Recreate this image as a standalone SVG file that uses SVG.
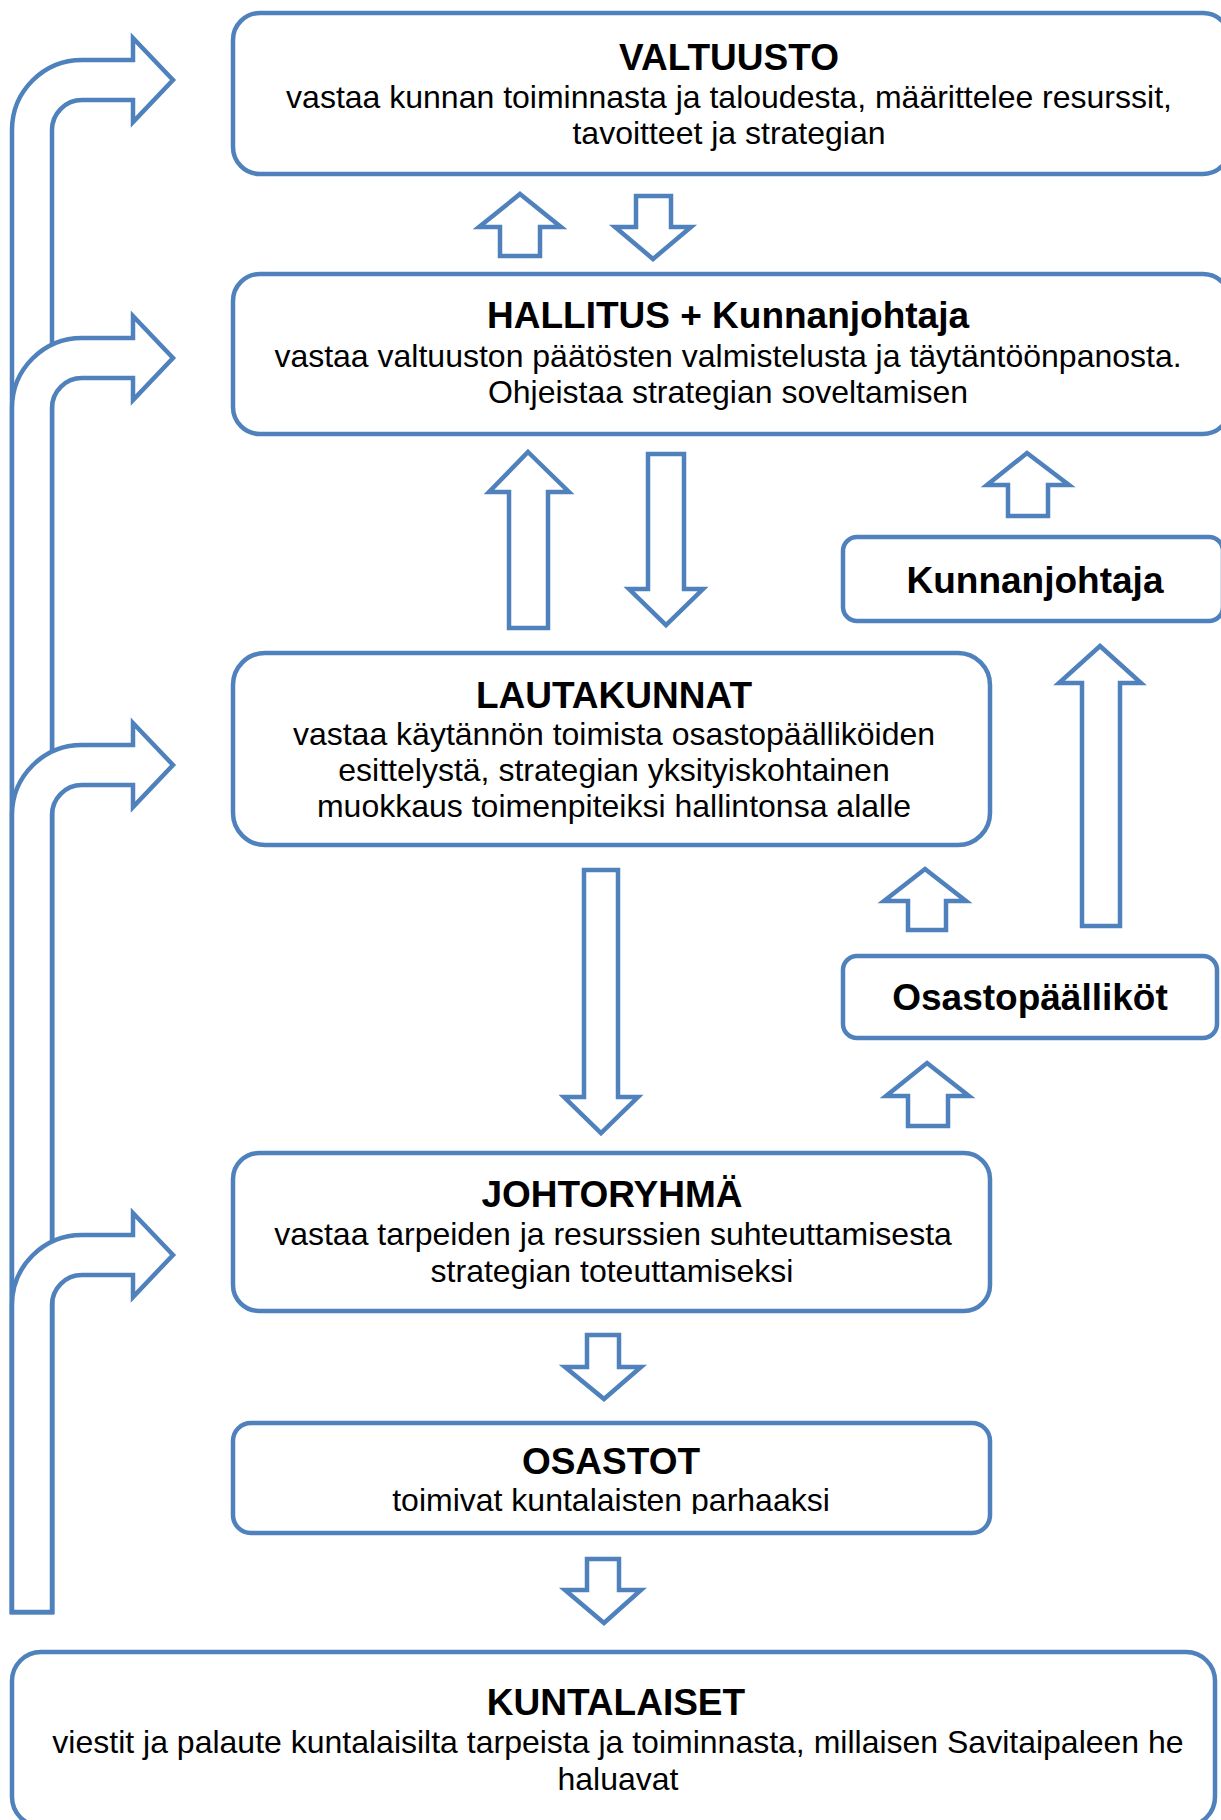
<svg xmlns="http://www.w3.org/2000/svg" width="1221" height="1820" viewBox="0 0 1221 1820">
<style>
.box{fill:#fff;stroke:#4F81BD;stroke-width:4.5}
.arr{fill:#fff;stroke:#4F81BD;stroke-width:4.5;stroke-linejoin:miter}
.t{font-family:"Liberation Sans",Arial,sans-serif;font-size:37px;font-weight:bold;fill:#000;text-anchor:middle}
.b{font-family:"Liberation Sans",Arial,sans-serif;font-size:32px;fill:#000;text-anchor:middle}
</style>
<defs>
<clipPath id="osclip"><rect x="233" y="1423" width="757" height="91"/></clipPath>
</defs>
<rect width="1221" height="1820" fill="#fff"/>
<g id="connectors">
<path class="arr" d="M12 1612 L12 130 A70 70 0 0 1 82 60 L133 60 L133 38 L173 80 L133 122 L133 100 L82 100 A30 30 0 0 0 52 130 L52 1612 Z"/>
<path class="arr" d="M12 1612 L12 408 A70 70 0 0 1 82 338 L133 338 L133 316 L173 358 L133 400 L133 378 L82 378 A30 30 0 0 0 52 408 L52 1612 Z"/>
<path class="arr" d="M12 1612 L12 815 A70 70 0 0 1 82 745 L133 745 L133 723 L173 765 L133 807 L133 785 L82 785 A30 30 0 0 0 52 815 L52 1612 Z"/>
<path class="arr" d="M12 1612 L12 1305 A70 70 0 0 1 82 1235 L133 1235 L133 1213 L173 1255 L133 1297 L133 1275 L82 1275 A30 30 0 0 0 52 1305 L52 1612 Z"/>
<polygon class="arr" points="520,194 561,227 540,227 540,256 500,256 500,227 479,227"/>
<polygon class="arr" points="636,196 671,196 671,227 691,227 653,259 615,227 636,227"/>
<polygon class="arr" points="528,452 569,492 548,492 548,628 509,628 509,492 489,492"/>
<polygon class="arr" points="648,454 684,454 684,589 703,589 666,625 629,589 648,589"/>
<polygon class="arr" points="1027,453 1069,485 1048,485 1048,516 1008,516 1008,485 987,485"/>
<polygon class="arr" points="1100,646 1141,683 1120,683 1120,926 1082,926 1082,683 1059,683"/>
<polygon class="arr" points="925,869 966,901 946,901 946,930 908,930 908,901 884,901"/>
<polygon class="arr" points="927,1063 969,1096 948,1096 948,1126 908,1126 908,1096 886,1096"/>
<polygon class="arr" points="584,870 618,870 618,1097 638,1097 601,1133 564,1097 584,1097"/>
<polygon class="arr" points="587,1335 619,1335 619,1367 641,1367 604,1399 565,1367 587,1367"/>
<polygon class="arr" points="587,1559 619,1559 619,1590 641,1590 604,1623 565,1590 587,1590"/>
</g>
<g id="valtuusto">
<rect class="box" x="233" y="13" width="997" height="161" rx="27"/>
<text class="t" x="729" y="70">VALTUUSTO</text>
<text class="b" x="729" y="108">vastaa kunnan toiminnasta ja taloudesta, määrittelee resurssit,</text>
<text class="b" x="729" y="144">tavoitteet ja strategian</text>
</g>
<g id="hallitus">
<rect class="box" x="233" y="274" width="997" height="160" rx="27"/>
<text class="t" x="728" y="328">HALLITUS + Kunnanjohtaja</text>
<text class="b" x="728" y="367">vastaa valtuuston päätösten valmistelusta ja täytäntöönpanosta.</text>
<text class="b" x="728" y="403">Ohjeistaa strategian soveltamisen</text>
</g>
<g id="kunnanjohtaja">
<rect class="box" x="843" y="537" width="380" height="84" rx="14"/>
<text class="t" x="1035" y="593">Kunnanjohtaja</text>
</g>
<g id="lautakunnat">
<rect class="box" x="233" y="653" width="757" height="192" rx="32"/>
<text class="t" x="614" y="708">LAUTAKUNNAT</text>
<text class="b" x="614" y="745">vastaa käytännön toimista osastopäälliköiden</text>
<text class="b" x="614" y="781">esittelystä, strategian yksityiskohtainen</text>
<text class="b" x="614" y="817">muokkaus toimenpiteiksi hallintonsa alalle</text>
</g>
<g id="osastopaalikot">
<rect class="box" x="843" y="956" width="374" height="82" rx="14"/>
<text class="t" x="1030" y="1010">Osastopäälliköt</text>
</g>
<g id="johtoryhma">
<rect class="box" x="233" y="1153" width="757" height="158" rx="26"/>
<text class="t" x="612" y="1207">JOHTORYHMÄ</text>
<text class="b" x="613" y="1245">vastaa tarpeiden ja resurssien suhteuttamisesta</text>
<text class="b" x="612" y="1282">strategian toteuttamiseksi</text>
</g>
<g id="osastot">
<rect class="box" x="233" y="1423" width="757" height="110" rx="18"/>
<text class="t" x="611" y="1474">OSASTOT</text>
<text class="b" x="611" y="1511" clip-path="url(#osclip)">toimivat kuntalaisten parhaaksi</text>
</g>
<g id="kuntalaiset">
<rect class="box" x="12" y="1652" width="1203" height="174" rx="29"/>
<text class="t" x="616" y="1715">KUNTALAISET</text>
<text class="b" x="618" y="1753">viestit ja palaute kuntalaisilta tarpeista ja toiminnasta, millaisen Savitaipaleen he</text>
<text class="b" x="618" y="1790">haluavat</text>
</g>
</svg>
